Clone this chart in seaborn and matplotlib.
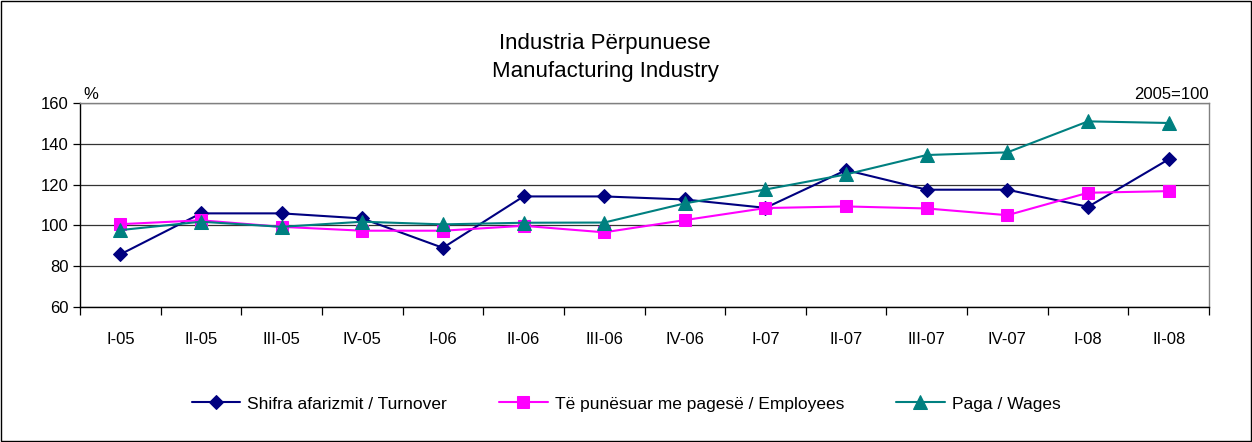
import pandas as pd
import matplotlib.pyplot as plt
import seaborn as sns
from matplotlib.patches import Rectangle
from matplotlib.ticker import FixedLocator

# quarterly index values, 2005=100
periods = ['I-05', 'II-05', 'III-05', 'IV-05', 'I-06', 'II-06', 'III-06', 'IV-06',
           'I-07', 'II-07', 'III-07', 'IV-07', 'I-08', 'II-08']
turnover = [85.8, 105.9, 105.9, 103.4, 89.0, 114.2, 114.2, 112.7,
            108.6, 127.1, 117.5, 117.5, 109.1, 132.4]
employees = [100.6, 102.5, 99.3, 97.4, 97.4, 99.8, 96.6, 102.6,
             108.5, 109.3, 108.3, 105.0, 116.0, 116.8]
wages = [97.7, 101.8, 99.3, 101.8, 100.5, 101.3, 101.4, 110.8,
         117.6, 125.0, 134.5, 135.8, 151.0, 150.2]

series_names = ['Shifra afarizmit / Turnover',
                'Të punësuar me pagesë / Employees',
                'Paga / Wages']
colors = ['#000080', '#FF00FF', '#008080']
markers = ['D', 's', '^']
marker_sizes = [7, 9, 10]

df = pd.DataFrame({
    'Period': periods * 3,
    'Value': turnover + employees + wages,
    'Series': [s for s in series_names for _ in periods],
})

sns.set_theme(style="white")
plt.rcParams['font.family'] = ['Liberation Sans', 'DejaVu Sans']
plt.rcParams['text.color'] = 'black'
plt.rcParams['xtick.color'] = 'black'
plt.rcParams['ytick.color'] = 'black'

fig = plt.figure(figsize=(12.52, 4.42), dpi=100)
ax = fig.add_axes([80 / 1252, 1 - 307 / 442, (1209 - 80) / 1252, (307 - 103) / 442])

for name, col, mk, ms in zip(series_names, colors, markers, marker_sizes):
    sub = df[df['Series'] == name]
    sns.lineplot(data=sub, x='Period', y='Value', color=col, marker=mk,
                 markersize=ms, markeredgecolor=col, linewidth=1.5,
                 sort=False, label=name, ax=ax)

ax.set_xlim(-0.5, len(periods) - 0.5)
ax.set_ylim(60, 160)
ax.set_yticks([60, 80, 100, 120, 140, 160])
ax.set_xlabel('')
ax.set_ylabel('')
ax.yaxis.grid(True, color='#333333', linewidth=0.9)
ax.set_axisbelow(True)

# tick marks between categories
ax.xaxis.set_minor_locator(FixedLocator([i - 0.5 for i in range(len(periods) + 1)]))
ax.tick_params(axis='x', which='major', length=0, pad=18, labelsize=12)
ax.tick_params(axis='x', which='minor', length=6, width=0.9, color='black', direction='out')
ax.tick_params(axis='y', length=5, width=0.9, color='black', direction='out', labelsize=12, pad=3)
ax.tick_params(axis='both', bottom=True, left=True, which='both')

for side in ['left', 'bottom']:
    ax.spines[side].set_color('black')
    ax.spines[side].set_linewidth(1.0)
for side in ['top', 'right']:
    ax.spines[side].set_color('#808080')
    ax.spines[side].set_linewidth(1.0)

ax.text(0.003, 1.005, '%', transform=ax.transAxes, ha='left', va='bottom', fontsize=12)
ax.text(1.0, 1.005, '2005=100', transform=ax.transAxes, ha='right', va='bottom', fontsize=12)

fig.text(605 / 1252, 1 - 43 / 442, 'Industria Përpunuese', ha='center', va='center', fontsize=16)
fig.text(605 / 1252, 1 - 72 / 442, 'Manufacturing Industry', ha='center', va='center', fontsize=16)

ax.legend_.remove()
handles, labels = ax.get_legend_handles_labels()
fig.legend(handles, labels, loc='center', bbox_to_anchor=(0.5, 1 - 404 / 442), ncol=3,
           frameon=False, fontsize=12.5, handlelength=2.8, columnspacing=3.0, handletextpad=0.4)

fig.patches.append(Rectangle((0.0008, 0.0012), 0.9984, 0.9976, transform=fig.transFigure,
                             fill=False, edgecolor='black', linewidth=1.0))

fig.savefig('out.png', dpi=100)
